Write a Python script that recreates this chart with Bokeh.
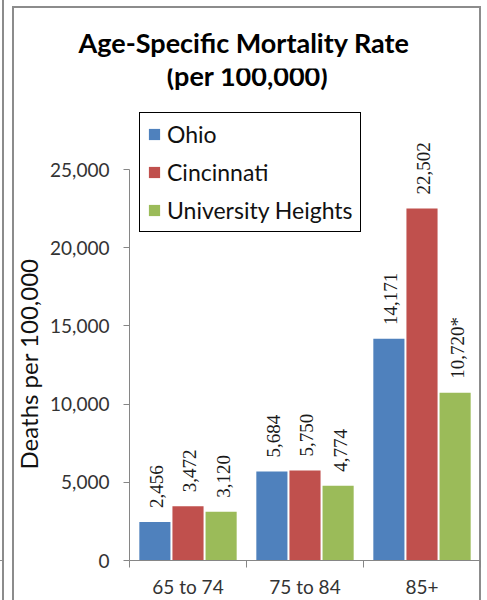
from bokeh.plotting import figure
from bokeh.models import (Range1d, FixedTicker, NumeralTickFormatter, CustomJSTickFormatter,
                          LabelSet, Label, ColumnDataSource, Title)
from bokeh.transform import dodge
from bokeh.embed import file_html
from bokeh.resources import INLINE

# ---- data ----
categories = ["65 to 74", "75 to 84", "85+"]
series_names = ["Ohio", "Cincinnati", "University Heights"]
ohio = [2456, 5684, 14171]
cincinnati = [3472, 5750, 22502]
univ_heights = [3120, 4774, 10720]
univ_heights_notes = ["", "", "*"]
y_ticks = [0, 5000, 10000, 15000, 20000, 25000]
title_lines = ["Age-Specific Mortality Rate", "(per 100,000)"]
y_label = "Deaths per 100,000"

colors = ["#4F81BD", "#C0504D", "#9BBB59"]
FONT = "Lato"
AXIS_GRAY = "#868686"
BOX_GRAY = "#8c8c8c"

# ---- layout constants (pixels) ----
W, H = 487, 600
FRAME_LEFT, FRAME_RIGHT_PAD, FRAME_TOP_PAD, FRAME_BOTTOM_PAD = 129, 7, 68, 40
AXIS_TOP_PX = 169                     # canvas y of the top tick
frame_bottom = H - FRAME_BOTTOM_PAD
frame_h = frame_bottom - FRAME_TOP_PAD
y_top = y_ticks[-1] * frame_h / (frame_bottom - AXIS_TOP_PX)

x_centers = [i + 0.5 for i in range(len(categories))]
src = ColumnDataSource(dict(
    x=x_centers,
    ohio=ohio,
    cin=cincinnati,
    uh=univ_heights,
    ohio_lbl=[f"{v:,}" for v in ohio],
    cin_lbl=[f"{v:,}" for v in cincinnati],
    uh_lbl=[f"{v:,}{n}" for v, n in zip(univ_heights, univ_heights_notes)],
))

p = figure(width=W, height=H, x_range=Range1d(0, len(categories)), y_range=Range1d(0, y_top),
           output_backend="svg", toolbar_location=None,
           min_border_left=FRAME_LEFT, min_border_right=FRAME_RIGHT_PAD,
           min_border_top=FRAME_TOP_PAD, min_border_bottom=FRAME_BOTTOM_PAD)
p.background_fill_alpha = 0
p.border_fill_alpha = 0
p.outline_line_color = None
p.xgrid.visible = False
p.ygrid.visible = False

# outer chart box (and the edge of the neighbouring chart), drawn behind the canvas
g = f"linear-gradient({BOX_GRAY},{BOX_GRAY})"
p.styles = {
    "background-color": "white",
    "background-image": ", ".join([g] * 5),
    "background-size": "2px 600px, 469px 2px, 2px 600px, 2px 600px, 4px 1px",
    "background-position": "12px 6px, 12px 6px, 479px 6px, 2px 0px, 0px 560px",
    "background-repeat": "no-repeat",
}

# chart title: first line as the plot title, second line centred below it
p.title.text = title_lines[0]
p.title.align = "left"
p.title.offset = -51
p.title.standoff = 19
p.title.vertical_align = "bottom"
p.title.text_font = FONT
p.title.text_font_size = "27px"
p.title.text_font_style = "bold"
p.title.text_color = "black"

p.add_layout(Label(x=118, y=frame_bottom - 87 + 12, x_units="screen", y_units="screen",
                   text=title_lines[1], text_align="center", text_baseline="alphabetic",
                   text_font=FONT, text_font_style="bold", text_font_size="27px",
                   text_color="black"))

# x axis
xa = p.xaxis[0]
xa.ticker = FixedTicker(ticks=x_centers, minor_ticks=list(range(len(categories) + 1)))
xa.formatter = CustomJSTickFormatter(args=dict(cats=categories),
                                     code="const i = Math.floor(tick); return (i >= 0 && i < cats.length) ? cats[i] : '';")
xa.major_tick_out = 0
xa.major_tick_in = 0
xa.minor_tick_out = 7
xa.minor_tick_in = 0
xa.minor_tick_line_color = AXIS_GRAY
xa.axis_line_color = AXIS_GRAY
xa.major_label_standoff = 7
xa.major_label_text_font = FONT
xa.major_label_text_font_size = "19px"
xa.major_label_text_color = "#333333"

# y axis
ya = p.yaxis[0]
ya.ticker = FixedTicker(ticks=y_ticks)
ya.bounds = (y_ticks[0], y_ticks[-1])
ya.formatter = NumeralTickFormatter(format="0,0")
ya.major_tick_out = 6
ya.major_tick_in = 0
ya.minor_tick_line_color = None
ya.major_tick_line_color = AXIS_GRAY
ya.axis_line_color = AXIS_GRAY
ya.major_label_standoff = 14
ya.major_label_text_font = FONT
ya.major_label_text_font_size = "19px"
ya.major_label_text_color = "#333333"

# y-axis title, placed beside the axis and aligned to the axis span
p.add_layout(Title(text=y_label, align="left", offset=91, standoff=10, vertical_align="bottom",
                   text_font=FONT, text_font_size="24px", text_font_style="normal",
                   text_color="#111111"), "left")

bar_w = 0.266
offsets = [-0.283, 0.0, 0.283]
cols = ["ohio", "cin", "uh"]
lbls = ["ohio_lbl", "cin_lbl", "uh_lbl"]
for off, col, lbl, c, name in zip(offsets, cols, lbls, colors, series_names):
    p.vbar(x=dodge("x", off, range=p.x_range), top=col, width=bar_w, source=src,
           fill_color=c, line_color=None, legend_label=name)
    p.add_layout(LabelSet(x=dodge("x", off, range=p.x_range), y=col, text=lbl, source=src,
                          angle=90, angle_units="deg", text_align="left", text_baseline="middle",
                          x_offset=2, y_offset=14, text_font=FONT, text_font_size="19px",
                          text_color="#1a1a1a"))

lg = p.legend[0]
lg.location = (10, 328)
lg.margin = 0
lg.padding = 7
lg.spacing = 10
lg.label_height = 28
lg.glyph_width = 14
lg.glyph_height = 14
lg.label_standoff = 6
lg.border_line_color = "black"
lg.border_line_alpha = 1.0
lg.border_line_width = 1
lg.background_fill_color = "white"
lg.background_fill_alpha = 1.0
lg.label_text_font = FONT
lg.label_text_font_size = "23px"
lg.label_text_color = "#111111"

open("out.html", "w").write(file_html(p, INLINE))
